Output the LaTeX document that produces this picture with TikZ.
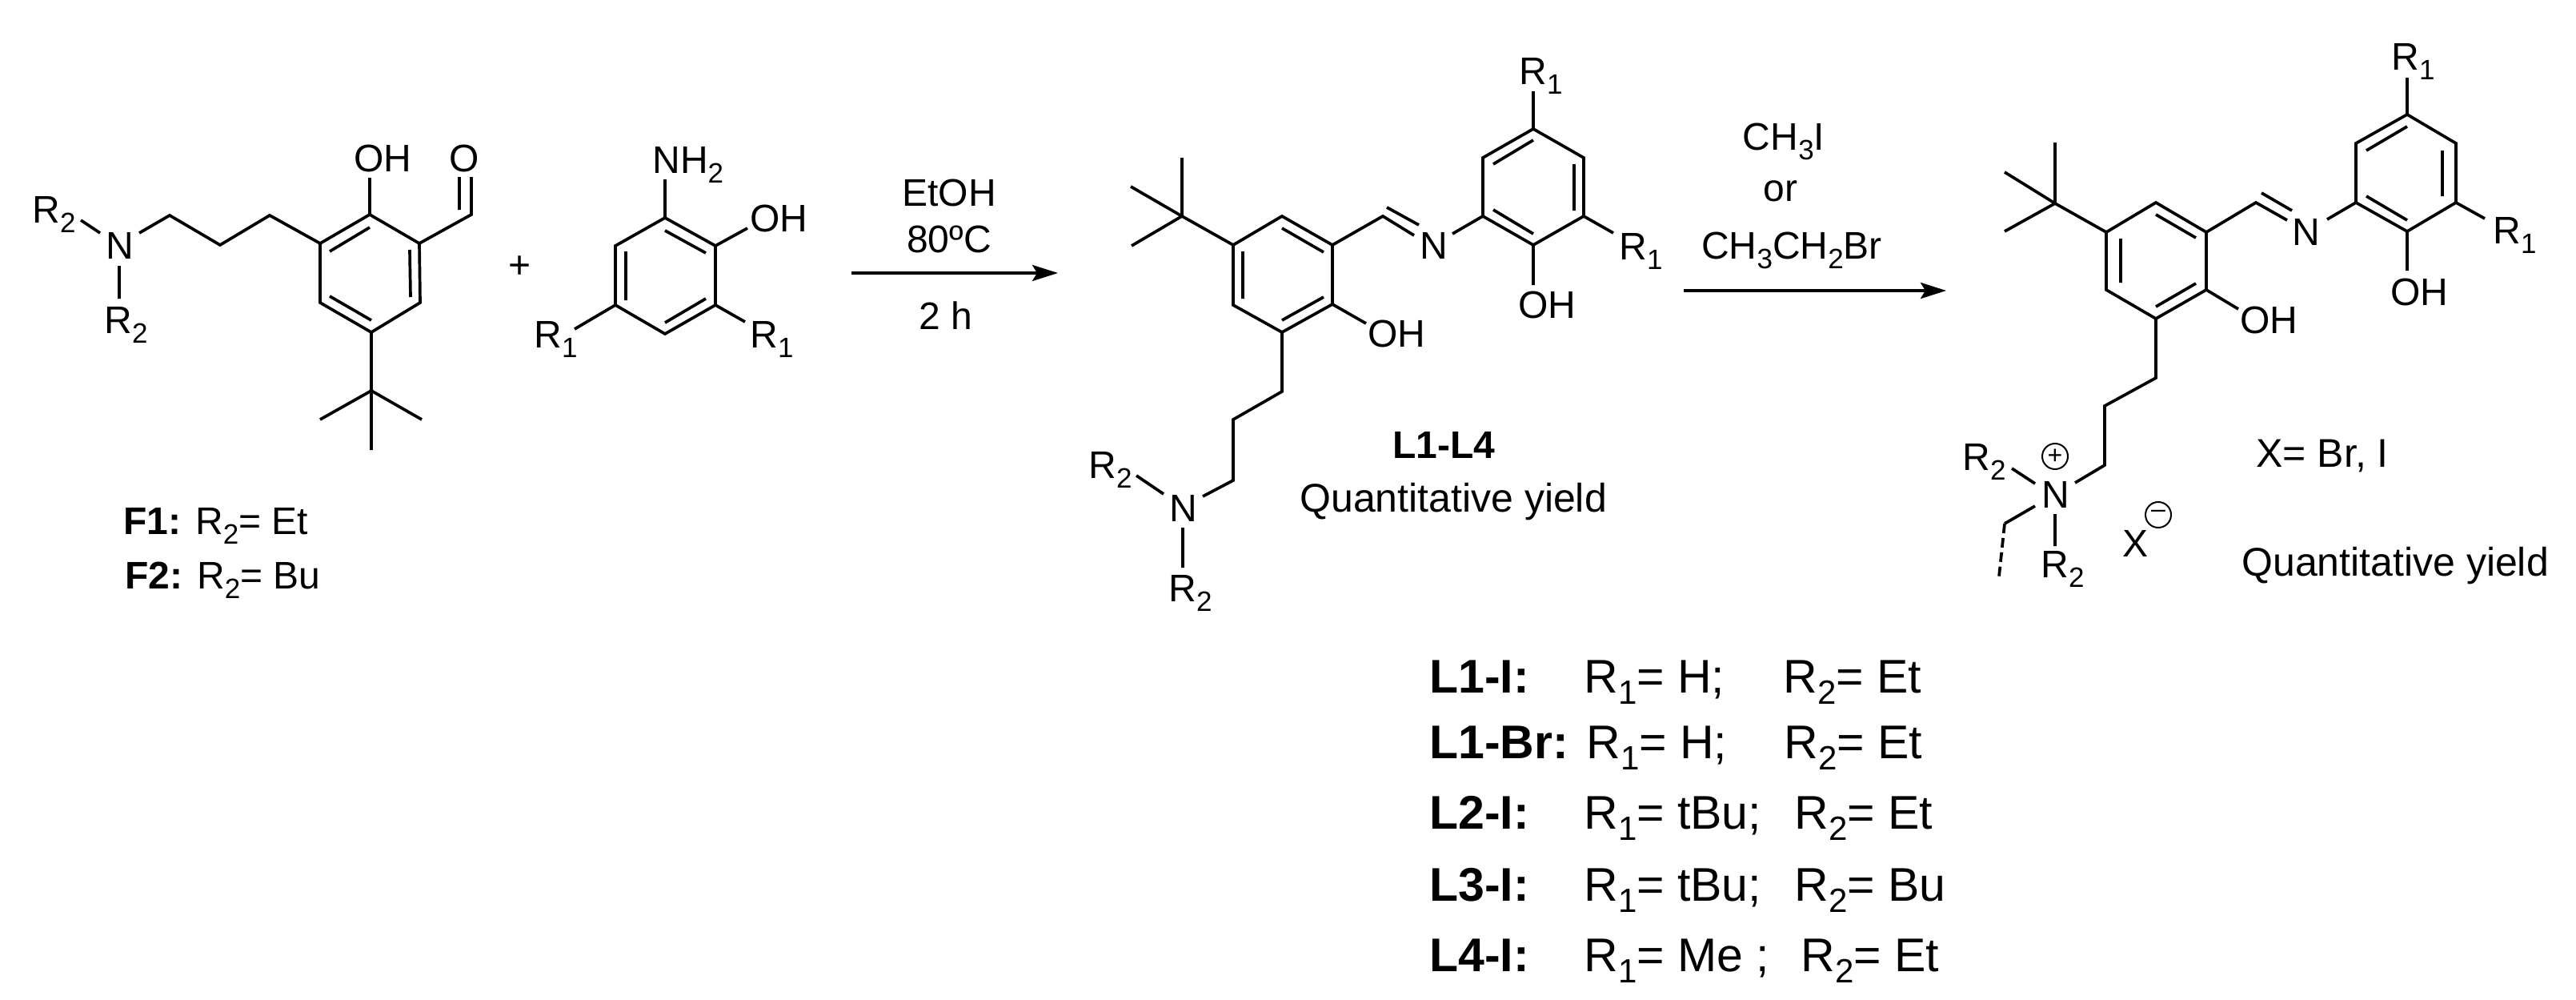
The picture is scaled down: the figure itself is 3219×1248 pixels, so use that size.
\documentclass[tikz,border=0pt]{standalone}
\usepackage{fontspec}
\setmainfont{Liberation Sans}
\usetikzlibrary{arrows.meta}
\newcommand\subA[1]{\raisebox{-6pt}{\fontsize{17.5}{20}\selectfont #1}}
\newcommand\subB[1]{\raisebox{-7pt}{\fontsize{21}{24}\selectfont #1}}
\tikzset{
  bond/.style={line width=1.85pt,line join=miter,line cap=butt},
  rxn/.style={line width=1.85pt,-{Stealth[length=16pt,width=10pt,inset=3pt]}},
  txt/.style={anchor=base west,inner sep=0pt,font=\fontsize{24}{28}\selectfont},
  ctxt/.style={txt,anchor=base},
  ytxt/.style={txt,font=\fontsize{25}{28}\selectfont},
  big/.style={anchor=base west,inner sep=0pt,font=\fontsize{29.5}{34}\selectfont},
  chg/.style={circle,draw,line width=1pt,inner sep=0pt,minimum size=16pt,font=\fontsize{16}{16}\selectfont}
}
\begin{document}
\begin{tikzpicture}[x=0.5pt,y=-0.5pt]
\fill[white] (0,0) rectangle (3219,1248);
\useasboundingbox (0,0) rectangle (3219,1248);
% --- F1/F2 aldehyde
\draw[bond] (462,268)--(524,304)--(525,378)--(464,415)--(400,378)--(400,304)--cycle;
\draw[bond] (462,284)--(412,314) (512,312)--(513,371) (464,400)--(412,370);
\draw[bond] (462,268)--(462,222);
\draw[bond] (524,304)--(589,268)--(589,221) (574,262)--(574,221);
\draw[bond] (400,304)--(337,269)--(275,306)--(212,269)--(174,291);
\draw[bond] (125,291)--(101,275) (149,332)--(149,373);
\draw[bond] (464,415)--(464,488) (400,524)--(464,488)--(527,524) (464,488)--(464,562);
\node[txt] (fOH) at (442,214) {OH};
\node[txt] (fO) at (561,214) {O};
\node[txt] (fN) at (132,323) {N};
\node[txt] (fR2a) at (40,278) {R\subA{2}};
\node[txt] (fR2b) at (130,416) {R\subA{2}};
\node[txt] (fl1) at (154,667) {\textbf{F1:} R\subA{2}= Et};
\node[txt] (fl2) at (156,735) {\textbf{F2:} R\subA{2}= Bu};
\node[txt,anchor=center] (plus) at (650,334) {+};
% --- aminophenol
\draw[bond] (831,272)--(894,307)--(894,381)--(831,417)--(769,381)--(769,307)--cycle;
\draw[bond] (831,288)--(882,316) (782,314)--(782,375) (882,373)--(831,403);
\draw[bond] (831,224)--(831,272) (894,307)--(934,285) (894,381)--(931,402) (769,381)--(718,411);
\node[txt] (aNH) at (815,216) {NH\subA{2}};
\node[txt] (aOH) at (937,289) {OH};
\node[txt] (aR1a) at (937,434) {R\subA{1}};
\node[txt] (aR1b) at (667,434) {R\subA{1}};
% --- arrow 1
\coordinate (r1s) at (1064,341); \coordinate (r1e) at (1322,341);
\draw[rxn] (r1s)--(r1e);
\node[ctxt] (c1) at (1186,257) {EtOH};
\node[ctxt] (c2) at (1186,315) {80ºC};
\node[ctxt] (c3) at (1182,411) {2 h};
% --- L1-L4
\draw[bond] (1602,270)--(1665,306)--(1665,380)--(1602,415)--(1541,381)--(1541,306)--cycle;
\draw[bond] (1602,285)--(1654,315) (1553,314)--(1553,373) (1602,400)--(1654,371);
\draw[bond] (1541,306)--(1477,270) (1477,197)--(1477,270) (1413,233)--(1477,270)--(1414,307);
\draw[bond] (1665,306)--(1728,270)--(1767,294) (1733,259)--(1773,281) (1815,292)--(1853,270);
\draw[bond] (1853,270)--(1853,197)--(1916,161)--(1979,197)--(1979,270)--(1916,306)--cycle;
\draw[bond] (1866,205)--(1916,175) (1967,205)--(1967,263) (1866,262)--(1916,292);
\draw[bond] (1916,161)--(1916,114) (1979,270)--(2016,291) (1916,306)--(1916,356) (1665,380)--(1707,404);
\draw[bond] (1602,415)--(1602,489)--(1541,524)--(1541,600)--(1503,620);
\draw[bond] (1454,617)--(1420,594) (1478,659)--(1478,709);
\node[txt] (lN) at (1774,323) {N};
\node[txt] (lR1a) at (1898,105) {R\subA{1}};
\node[txt] (lR1b) at (2023,324) {R\subA{1}};
\node[txt] (lOHa) at (1897,397) {OH};
\node[txt] (lOHb) at (1709,433) {OH};
\node[txt] (lN2) at (1461,651) {N};
\node[txt] (lR2a) at (1360,597) {R\subA{2}};
\node[txt] (lR2b) at (1460,751) {R\subA{2}};
\node[txt] (lname) at (1740,572) {\textbf{L1-L4}};
\node[ytxt] (ly) at (1624,639) {Quantitative yield};
% --- arrow 2
\coordinate (r2s) at (2104,363); \coordinate (r2e) at (2432,363);
\draw[rxn] (r2s)--(r2e);
\node[ctxt] (d1) at (2229,187) {CH\subA{3}I};
\node[ctxt] (d2) at (2225,251) {or};
\node[ctxt] (d3) at (2239,323) {CH\subA{3}CH\subA{2}Br};
% --- salt
\draw[bond] (2694,253)--(2757,290)--(2757,362)--(2694,398)--(2632,362)--(2632,290)--cycle;
\draw[bond] (2694,268)--(2744,297) (2650,298)--(2650,353) (2694,383)--(2744,354);
\draw[bond] (2632,290)--(2568,254) (2568,178)--(2568,254) (2505,215)--(2568,254)--(2505,289);
\draw[bond] (2757,290)--(2819,253)--(2858,275) (2826,241)--(2864,263) (2908,274)--(2944,253);
\draw[bond] (2944,253)--(2944,179)--(3008,143)--(3069,179)--(3069,253)--(3008,289)--cycle;
\draw[bond] (2957,188)--(3008,158) (3052,188)--(3052,245) (2957,245)--(3008,275);
\draw[bond] (3008,143)--(3008,97) (3069,253)--(3105,273) (3008,289)--(3008,338) (2757,362)--(2797,386);
\draw[bond] (2694,398)--(2694,472)--(2630,507)--(2630,581)--(2593,603);
\draw[bond] (2543,604)--(2514,585) (2568,642)--(2568,682) (2543,632)--(2505,654);
\draw[bond,dash pattern=on 6pt off 3pt] (2505,654)--(2498,720);
\node[txt] (sN) at (2864,306) {N};
\node[txt] (sR1a) at (2988,87) {R\subA{1}};
\node[txt] (sR1b) at (3115,304) {R\subA{1}};
\node[txt] (sOHa) at (2987,381) {OH};
\node[txt] (sOHb) at (2799,416) {OH};
\node[txt] (sN2) at (2551,634) {N};
\node[chg] (plusc) at (2568,570) {+};
\node[txt] (sR2a) at (2452,587) {R\subA{2}};
\node[txt] (sR2b) at (2550,721) {R\subA{2}};
\node[txt] (sX) at (2652,695) {X};
\node[chg] (minusc) at (2697,643) {\raisebox{1.2pt}{–}};
\node[ytxt] (sXeq) at (2819,583) {X= Br, I};
\node[ytxt] (sy) at (2801,719) {Quantitative yield};
% --- table
\node[big] (t1a) at (1786,865) {\textbf{L1-I:}};
\node[big] (t1b) at (1979,865) {R\subB{1}= H;};
\node[big] (t1c) at (2228,865) {R\subB{2}= Et};
\node[big] (t2a) at (1786,947) {\textbf{L1-Br:}};
\node[big] (t2b) at (1982,947) {R\subB{1}= H;};
\node[big] (t2c) at (2229,947) {R\subB{2}= Et};
\node[big] (t3a) at (1786,1035) {\textbf{L2-I:}};
\node[big] (t3b) at (1979,1035) {R\subB{1}= tBu;};
\node[big] (t3c) at (2242,1035) {R\subB{2}= Et};
\node[big] (t4a) at (1786,1125) {\textbf{L3-I:}};
\node[big] (t4b) at (1979,1125) {R\subB{1}= tBu;};
\node[big] (t4c) at (2242,1125) {R\subB{2}= Bu};
\node[big] (t5a) at (1786,1213) {\textbf{L4-I:}};
\node[big] (t5b) at (1979,1213) {R\subB{1}= Me ;};
\node[big] (t5c) at (2250,1213) {R\subB{2}= Et};
\end{tikzpicture}
\end{document}
